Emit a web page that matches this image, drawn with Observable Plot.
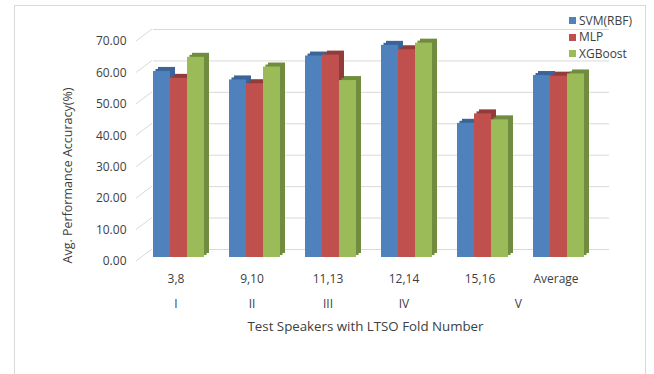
<!DOCTYPE html>
<html>
<head>
<meta charset="utf-8">
<script src="https://cdn.jsdelivr.net/npm/d3@7"></script>
<script src="https://cdn.jsdelivr.net/npm/@observablehq/plot@0.6"></script>
<style>
  html, body { margin: 0; padding: 0; background: #fff; }
  #chart { position: relative; width: 654px; height: 374px; overflow: hidden; font-family: "Open Sans", sans-serif; color: #404040; }
  #chart svg { position: absolute; left: 0; top: 0; }
  #frame { position: absolute; left: 14px; top: 5px; width: 630px; height: 420px; border: 1px solid #d9d9d9; pointer-events: none; }
  #legend { position: absolute; left: 569px; top: 12.5px; font-size: 12px; line-height: 16.5px; }
  #legend .item { display: flex; align-items: center; white-space: nowrap; }
  #legend .swatch { width: 7px; height: 7px; margin-right: 3px; }
</style>
</head>
<body>
<div id="chart"><div id="frame"></div><div id="legend"></div></div>
<script>
// Test speaker pairs per LTSO fold, plus the overall average
const categories = ["3,8", "9,10", "11,13", "12,14", "15,16", "Average"];
// Outer axis level: fold numbers and the categories each one spans
const folds = ["I", "II", "III", "IV", "V"];
const foldSpans = [["3,8"], ["9,10"], ["11,13"], ["12,14"], ["15,16", "Average"]];
const series = ["SVM(RBF)", "MLP", "XGBoost"];
// Avg. performance accuracy (%) per classifier
const svmRbf = [59.2, 56.5, 64.1, 67.5, 42.7, 57.9];
const mlp = [57.0, 55.3, 64.4, 66.1, 45.7, 57.7];
const xgBoost = [63.7, 60.6, 56.3, 68.2, 43.8, 58.4];
const yTicks = [0, 10, 20, 30, 40, 50, 60, 70];

const colors = ["#4f81bd", "#c0504d", "#9bbb59"];
const shades = ["#3b6498", "#923c3a", "#718c3e"];

const values = [svmRbf, mlp, xgBoost];
const rows = series.flatMap((s, si) => categories.map((c, ci) => ({series: s, category: c, value: values[si][ci]})));

// layout
const W = 654, H = 374;
const mL = 153, mR = 45, mT = 37, mB = 117;
const fxPadIn = 0.332, fxPadOut = 0.15;
const fxStep = (W - mL - mR) / (categories.length - fxPadIn + 2 * fxPadOut);
const depthX = 5, depthY = -4; // extrusion of the 3-D columns
const wallDy = -8;             // back wall sits above the column floor
const textColor = "#404040";
const yDomain = [0, 70];
const common = {width: W, height: H, marginLeft: mL, marginRight: mR, marginTop: mT, marginBottom: mB};
const style = {background: "transparent", fontFamily: "Open Sans, sans-serif", fontSize: "12px", color: textColor};

// Back wall: gridlines, value labels and axis titles
const wall = Plot.plot({
  ...common,
  style,
  y: {domain: yDomain, axis: null, label: null},
  marks: [
    Plot.ruleY(yTicks, {y: d => d, stroke: "#d9d9d9", strokeWidth: 1, dy: wallDy}),
    Plot.text(yTicks, {y: d => d, text: d => d3.format(".2f")(d), frameAnchor: "left", textAnchor: "end", lineAnchor: "middle", dx: -27, dy: 4, fill: textColor}),
    Plot.text(["Test Speakers with LTSO Fold Number"], {frameAnchor: "bottom", textAnchor: "middle", lineAnchor: "middle", dy: 69, dx: -16, fill: textColor, fontSize: 13.3}),
    Plot.text(["Avg. Performance Accuracy(%)"], {frameAnchor: "left", textAnchor: "middle", lineAnchor: "middle", rotate: -90, dx: -86, dy: 28, fill: textColor, fontSize: 12.5})
  ]
});

// short slanted stubs joining the value labels to the back wall
const yScale = wall.scale("y");
d3.select(wall).append("g")
  .attr("stroke", "#d9d9d9")
  .selectAll("line")
  .data(yTicks)
  .join("line")
  .attr("x1", mL - 17).attr("x2", mL - 1)
  .attr("y1", d => yScale.apply(d) + 4)
  .attr("y2", d => yScale.apply(d) + wallDy);

const barMarks = series.flatMap((s, si) => {
  const d = rows.filter(r => r.series === s);
  const opts = {fx: "category", x: "series", y: "value"};
  return [
    Plot.barY(d, {...opts, fill: shades[si], dx: depthX, dy: depthY}),
    Plot.barY(d, {...opts, fill: shades[si], dx: depthX / 2, dy: depthY / 2}),
    Plot.barY(d, {...opts, fill: colors[si]})
  ];
});

const foldMarks = folds.map((f, i) => Plot.text([f], {
  fx: () => foldSpans[i][0],
  text: d => d,
  frameAnchor: "bottom",
  textAnchor: "middle",
  lineAnchor: "middle",
  dy: 47,
  dx: (foldSpans[i].length - 1) * fxStep / 2 - 3,
  fill: textColor
}));

// Columns grouped by test speakers, one column per classifier
const columns = Plot.plot({
  ...common,
  style,
  fx: {domain: categories, paddingInner: fxPadIn, paddingOuter: fxPadOut, align: 0, axis: null, label: null},
  x: {domain: series, padding: 0, axis: null, label: null},
  y: {domain: yDomain, axis: null, label: null},
  marks: [
    ...barMarks,
    Plot.text(categories, {fx: d => d, text: d => d, frameAnchor: "bottom", textAnchor: "middle", lineAnchor: "middle", dy: 22, dx: -3, fill: textColor}),
    ...foldMarks
  ]
});

const chart = document.getElementById("chart");
const frame = document.getElementById("frame");
chart.insertBefore(wall, frame);
chart.insertBefore(columns, frame);

const legend = d3.select("#legend");
series.forEach((s, i) => {
  const item = legend.append("div").attr("class", "item");
  item.append("div").attr("class", "swatch").style("background", colors[i]);
  item.append("span").text(s);
});
</script>
</body>
</html>
